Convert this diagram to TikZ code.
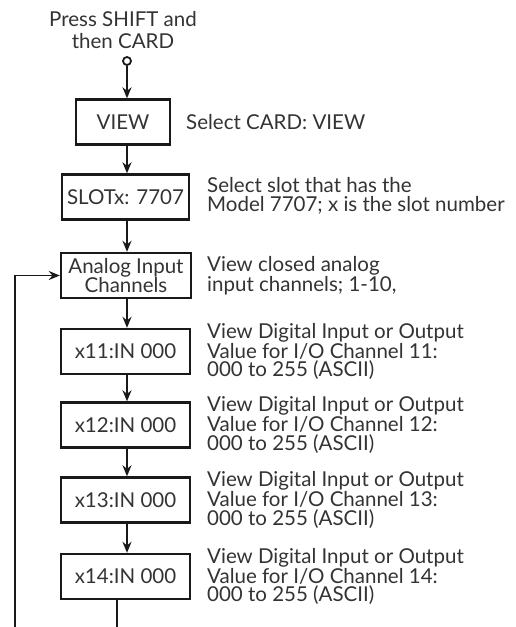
\documentclass[tikz,border=0pt]{standalone}
\usepackage{fontspec}
\setmainfont{Lato}
\usetikzlibrary{arrows.meta}

\begin{document}
\begin{tikzpicture}[x=1pt,y=-1pt,
    box/.style={draw=black!90,text=black!80,line width=2.4pt,minimum height=45pt,inner sep=0pt,align=center,font=\fontsize{20.5}{19.5}\selectfont},
    desc/.style={anchor=west,align=left,inner sep=0pt,text=black!80,font=\fontsize{20.5}{18.5}\selectfont},
    flow/.style={draw=black!90,line width=1.8pt,-{Stealth[length=11pt,width=9pt]}},
    wire/.style={draw=black!90,line width=1.8pt}]

\useasboundingbox (0,0) rectangle (516,627);

% 起点: 标题和小圆圈
\node[align=center,text=black!80,font=\fontsize{20.5}{22}\selectfont] (title) at (123,30) {Press SHIFT and\\then CARD};
\node[draw=black!90,circle,line width=1.8pt,minimum size=8pt,inner sep=0pt] (start) at (127,61) {};

% 前三个框和说明
\node[box,minimum width=94pt] (view) at (123,122) {VIEW};
\node[desc] (viewtxt) at (186,122) {Select CARD: VIEW};
\node[box,minimum width=127pt] (slot) at (125.5,197) {SLOTx: 7707};
\node[desc] (slottxt) at (207,196) {Select slot that has the\\Model 7707; x is the slot number};
\node[box,minimum width=130pt] (analog) at (126,275.5) {Analog Input\\Channels};
\node[desc] (analogtxt) at (207,275.5) {View closed analog\\input channels; 1-10,};

\draw[flow] (start) -- (view.north -| start);
\draw[flow] (view.south -| start) -- (slot.north -| start);
\draw[flow] (slot.south -| start) -- (analog.north -| start);

% 通道11到14
\foreach \ch/\yc/\prev in {11/351.5/analog, 12/425/x11, 13/500/x12, 14/576.5/x13} {
    \node[box,minimum width=129pt] (x\ch) at (125.5,\yc) {x\ch:IN 000};
    \node[desc] (x\ch txt) at (207,\yc) {View Digital Input or Output\\Value for I/O Channel \ch:\\000 to 255 (ASCII)};
    \draw[flow] (\prev.south -| start) -- (x\ch.north -| start);
}

% 回到Analog Input Channels
\coordinate (down) at (117,627);
\coordinate (back) at (15,627);
\draw[wire] (x14.south -| down) -- (down);
\draw[flow] (back) |- (analog.west);

\end{tikzpicture}
\end{document}
